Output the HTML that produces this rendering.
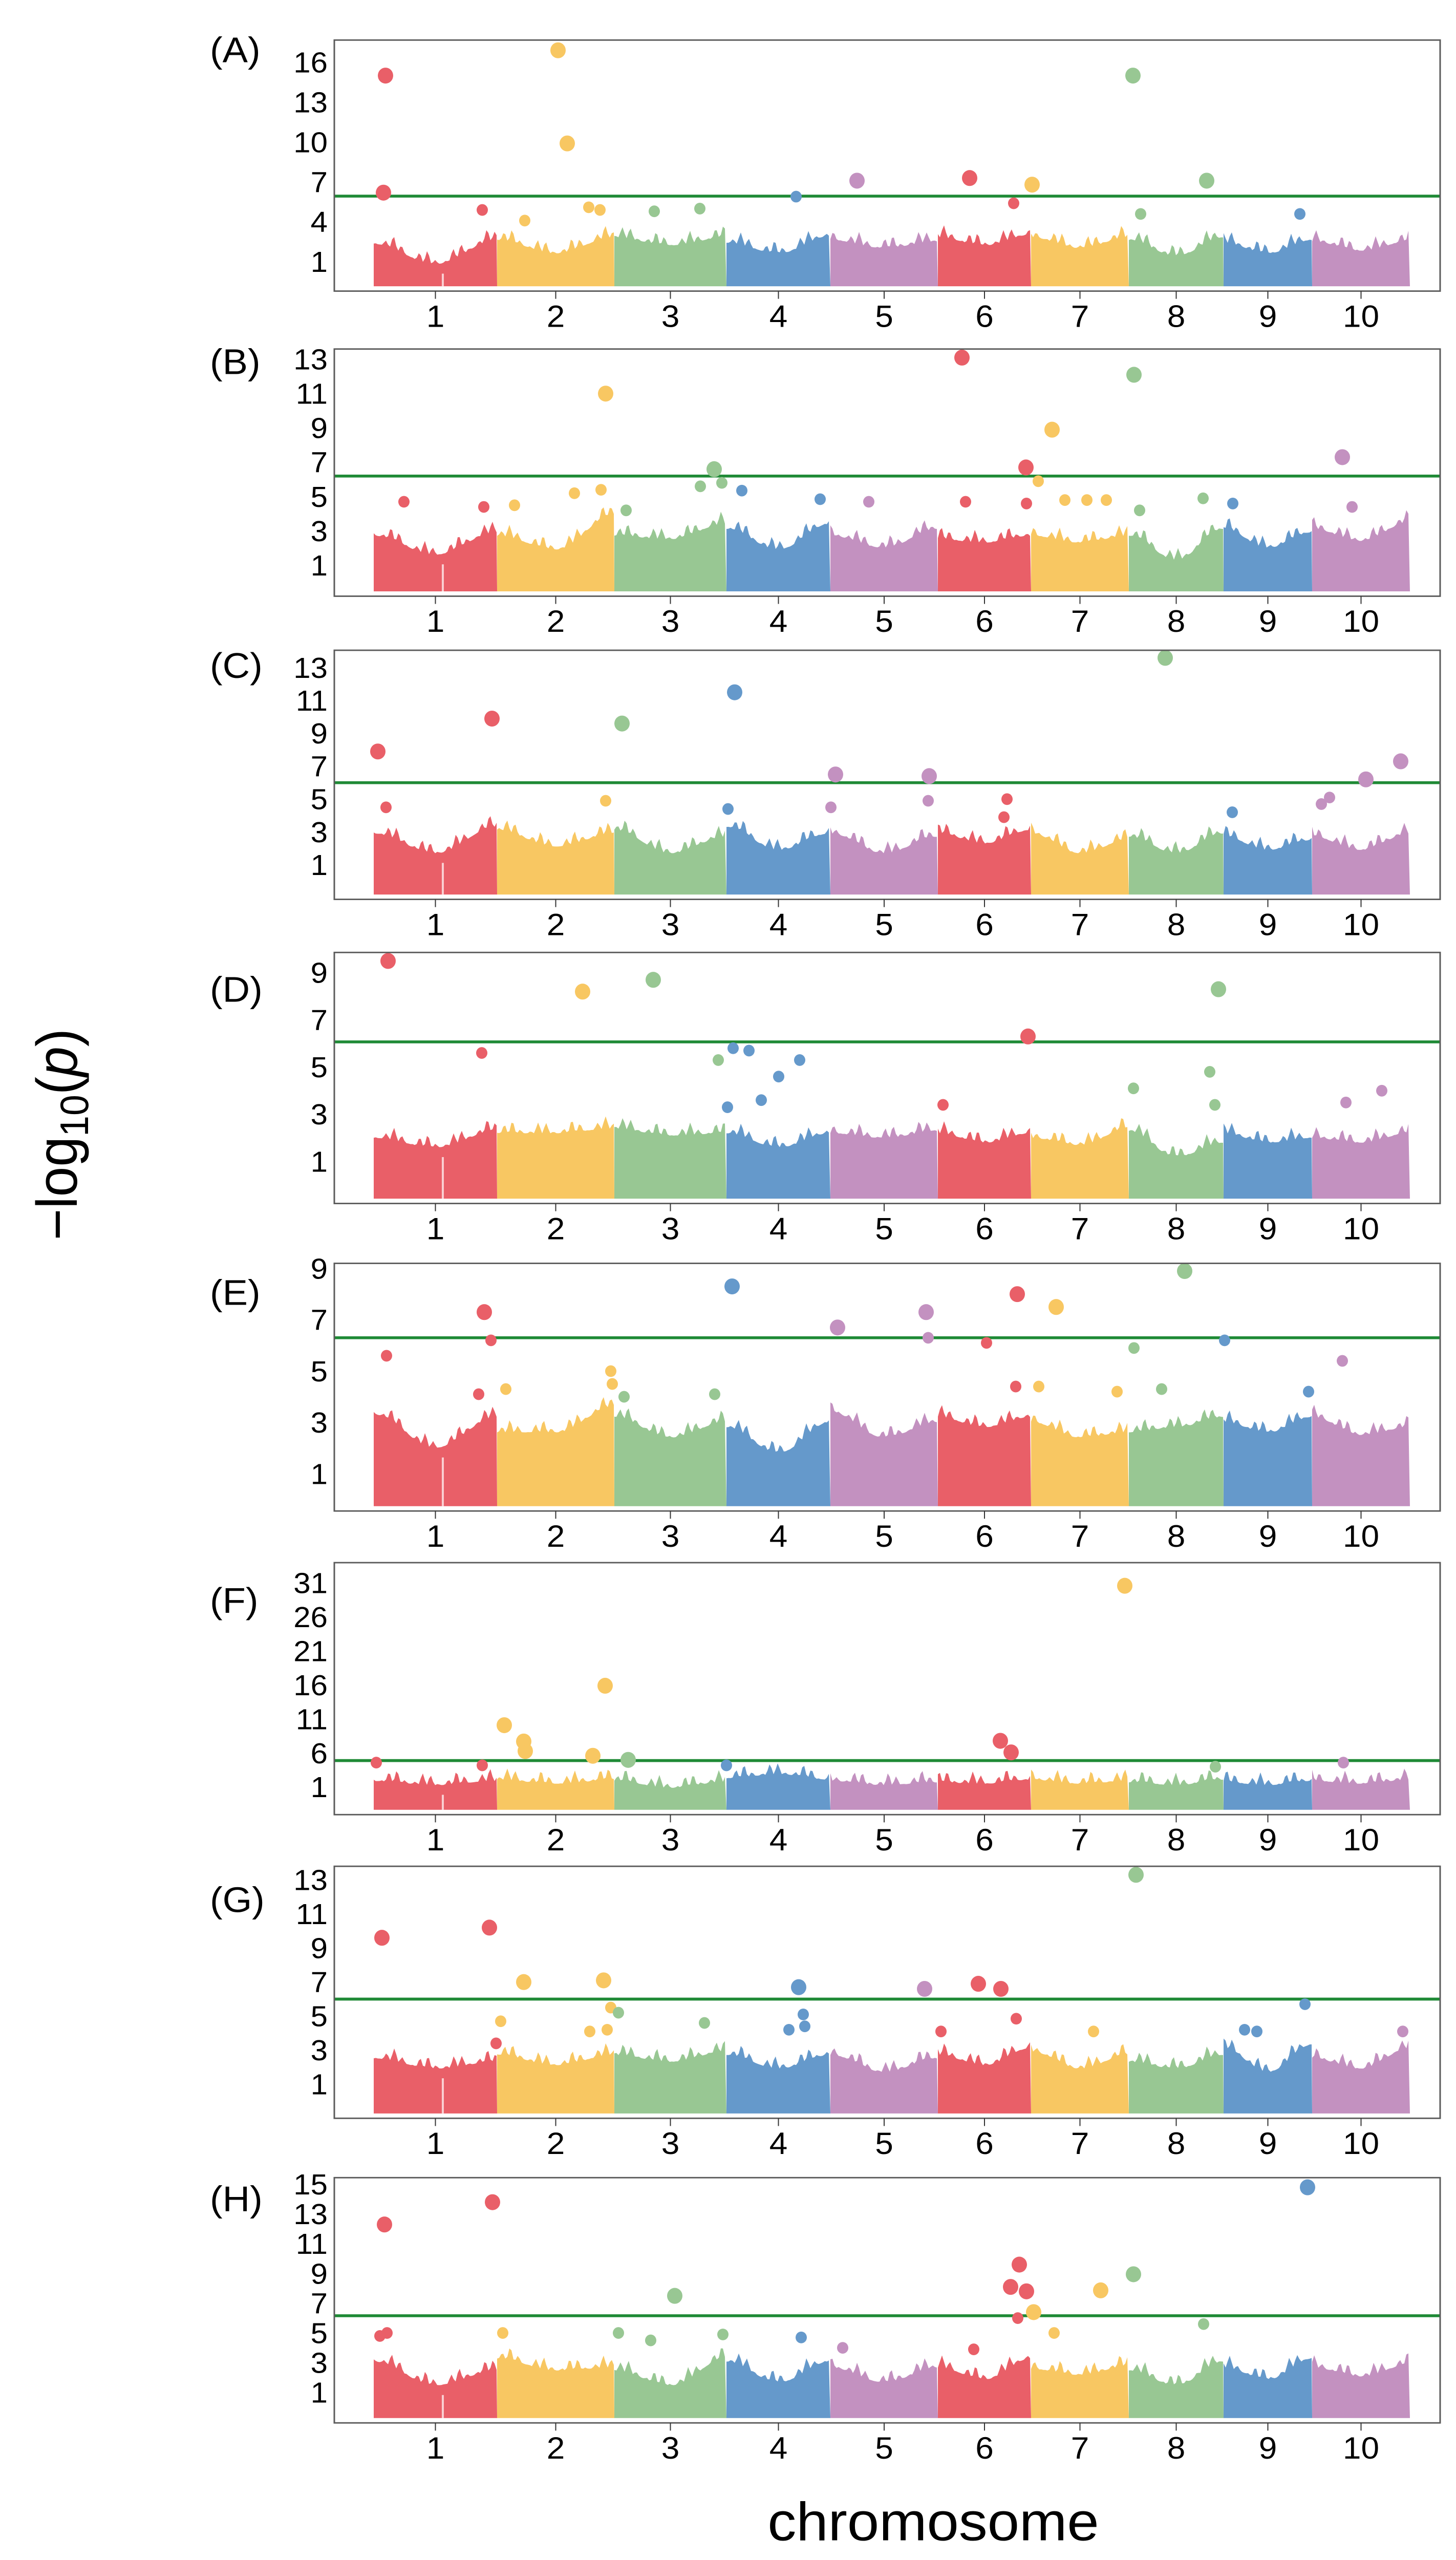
<!DOCTYPE html>
<html><head><meta charset="utf-8">
<style>
html,body{margin:0;padding:0;background:#fff;overflow:hidden;}
#fig{display:block;position:fixed;left:0;top:0;width:100vw;height:100vh;}
text{font-family:"Liberation Sans",Arial,sans-serif;fill:#000;}
</style></head>
<body>
<svg id="fig" xmlns="http://www.w3.org/2000/svg" viewBox="0 0 2844 5303" preserveAspectRatio="none">
  <rect x="0" y="0" width="2844" height="5303" fill="#fff"/>
  <text transform="translate(150,2350) rotate(-90)" text-anchor="middle" font-size="112">−log<tspan font-size="78" dy="22">10</tspan><tspan dy="-22">(</tspan><tspan font-style="italic">p</tspan>)</text>
  <text x="1823" y="5262" text-anchor="middle" font-size="112">chromosome</text>
  <g id="panels"></g>
</svg>
<script>
// ---- shared chromosome data ----
const chromosomes = ["1","2","3","4","5","6","7","8","9","10"];
const chrLengths = [241,229,219,203,210,182,191,185,173,191];
const chrColors = ["#e95f68","#f8c762","#98c793","#6599cb","#c391c0","#e95f68","#f8c762","#98c793","#6599cb","#c391c0"];

// ---- per panel layout config ----
const panelLetters = ["A","B","C","D","E","F","G","H"];
const panelTops = [83,723,1347,1973,2617,3237,3866,4511];
const panelBottoms = [603,1235,1863,2493,3130,3759,4388,5019];
const panelLabelY = [103,749,1378,2049,2677,3315,3935,4554];
const yMaxs = [17.67,13.6,14.06,9.86,9.2,34,13.8,15.45];
const yMins = [-1.2,-0.8,-1.1,-0.78,-0.45,-3.05,-1.0,-1.05];

// ---- y tick labels ----
const ticksA = [1,4,7,10,13,16];
const ticksB = [1,3,5,7,9,11,13];
const ticksC = [1,3,5,7,9,11,13];
const ticksD = [1,3,5,7,9];
const ticksE = [1,3,5,7,9];
const ticksF = [1,6,11,16,21,26,31];
const ticksG = [1,3,5,7,9,11,13];
const ticksH = [1,3,5,7,9,11,13,15];

// ---- significance thresholds ----
const thresholds = [5.94,6.2,6.0,6.07,6.3,4.9,6.0,6.16];

// ---- background envelope (left, middle, right) per chromosome ----
const envA = [[2.7,1.2,3.0],[3.0,2.0,3.2],[3.2,2.6,3.2],[2.8,2.0,3.3],[3.0,2.4,2.9],[3.2,2.6,3.4],[3.2,2.4,3.2],[3.0,1.8,3.2],[2.8,2.0,3.0],[2.9,2.2,2.9]];
const envB = [[3.0,1.9,3.2],[3.0,2.2,4.2],[3.0,2.8,3.7],[3.4,2.2,3.7],[3.0,2.3,3.4],[2.8,2.6,3.0],[3.0,2.6,3.0],[3.0,1.6,3.4],[3.4,2.3,3.2],[3.4,2.7,3.8]];
const envC = [[3.2,2.0,3.6],[3.4,2.4,3.2],[3.4,2.0,3.0],[3.6,2.2,3.2],[3.2,2.0,3.0],[3.2,2.6,3.4],[3.2,2.0,2.8],[3.0,2.0,3.2],[3.0,2.2,2.8],[3.0,2.2,3.2]];
const envD = [[2.2,1.8,2.5],[2.4,2.4,2.6],[2.6,2.3,2.4],[2.4,1.8,2.4],[2.4,2.2,2.5],[2.4,2.0,2.4],[2.2,1.9,2.6],[2.5,1.4,2.0],[2.4,2.0,2.2],[2.2,2.0,2.4]];
const envE = [[3.5,2.2,3.4],[2.8,2.8,3.8],[3.4,2.6,3.2],[3.0,2.0,3.2],[3.6,2.6,3.2],[3.4,3.0,3.4],[3.2,2.6,2.8],[2.8,3.0,3.4],[3.2,2.8,3.4],[3.4,2.7,3.0]];
const envF = [[2.6,2.0,2.6],[2.8,2.2,2.8],[2.6,1.6,2.5],[3.0,3.6,2.8],[2.6,2.0,2.4],[2.4,2.2,2.8],[2.8,2.2,2.6],[2.4,2.0,2.8],[2.4,2.0,2.6],[2.6,2.2,2.8]];
const envG = [[2.8,2.2,2.6],[3.0,2.4,3.0],[3.0,2.6,3.2],[3.0,2.2,3.0],[3.0,2.0,2.8],[3.0,2.4,3.4],[3.2,2.2,3.0],[2.6,2.2,3.0],[3.4,2.0,3.6],[2.8,2.2,3.4]];
const envH = [[3.4,1.8,2.8],[3.6,2.8,3.0],[2.8,1.8,3.6],[3.4,2.0,3.4],[3.0,2.0,3.0],[3.0,2.2,3.6],[2.9,2.5,3.1],[2.8,1.8,3.4],[3.0,2.2,3.6],[3.0,2.4,3.2]];

// ---- outlier SNPs: [chromosome, position, -log10 p] ----
const snpsA = [[1,23,15.0],[2,119,16.9],[8,8,15.0],[2,137,9.9],[1,19,6.2],[5,52,7.1],[6,62,7.3],[7,2,6.8],[8,152,7.1],[4,136,5.9],[6,148,5.4],[1,212,4.9],[2,179,5.1],[2,201,4.9],[3,167,5.0],[3,78,4.8],[8,23,4.6],[9,149,4.6],[2,54,4.1]];
const snpsB = [[6,47,13.1],[8,10,12.1],[2,212,11.0],[7,41,8.9],[10,59,7.3],[6,172,6.7],[3,195,6.6],[7,14,5.9],[3,210,5.8],[3,168,5.6],[4,30,5.35],[2,203,5.4],[2,151,5.2],[4,183,4.85],[1,59,4.7],[6,54,4.7],[6,173,4.6],[5,75,4.7],[8,145,4.9],[8,21,4.2],[9,18,4.6],[10,78,4.4],[7,66,4.8],[7,109,4.8],[7,147,4.8],[1,215,4.4],[2,34,4.5],[3,23,4.2]];
const snpsC = [[8,71,13.6],[4,16,11.5],[1,231,9.9],[3,15,9.6],[1,8,7.9],[10,173,7.3],[5,10,6.5],[5,193,6.4],[10,105,6.2],[10,34,5.1],[10,18,4.7],[6,135,5.0],[2,212,4.9],[5,191,4.9],[1,24,4.5],[4,3,4.4],[5,1,4.5],[9,17,4.2],[6,129,3.9]];
const snpsD = [[1,28,9.5],[3,76,8.7],[2,167,8.2],[8,175,8.3],[6,176,6.3],[1,211,5.6],[4,13,5.8],[4,44,5.7],[3,203,5.3],[4,143,5.3],[4,102,4.6],[8,158,4.8],[8,9,4.1],[10,136,4.0],[4,68,3.6],[6,10,3.4],[10,66,3.5],[8,168,3.4],[4,2,3.3]];
const snpsE = [[8,109,8.9],[4,11,8.3],[6,155,8.0],[7,49,7.5],[1,216,7.3],[5,187,7.3],[5,14,6.7],[5,191,6.3],[1,229,6.2],[9,2,6.2],[6,95,6.1],[8,10,5.9],[1,25,5.6],[10,59,5.4],[2,222,5.0],[2,225,4.5],[2,17,4.3],[6,152,4.4],[7,15,4.4],[8,64,4.3],[7,168,4.2],[9,166,4.2],[3,19,4.0],[1,205,4.1],[3,196,4.1]];
const snpsF = [[7,183,30.6],[2,211,15.9],[2,14,10.1],[2,52,7.7],[2,55,6.3],[2,187,5.6],[6,122,7.8],[6,143,6.1],[3,27,5.0],[1,5,4.6],[1,212,4.2],[4,0,4.2],[10,61,4.6],[8,169,4.0]];
const snpsG = [[8,14,13.3],[1,226,10.2],[1,16,9.6],[2,208,7.1],[2,52,7.0],[4,141,6.7],[6,79,6.9],[6,123,6.6],[5,184,6.6],[9,159,5.7],[2,222,5.5],[3,8,5.2],[4,150,5.1],[6,153,4.85],[2,7,4.7],[3,176,4.6],[4,153,4.4],[4,122,4.2],[6,6,4.1],[7,122,4.1],[2,215,4.2],[2,181,4.1],[9,41,4.2],[9,65,4.1],[10,177,4.1],[1,239,3.4]];
const snpsH = [[9,164,14.8],[1,232,13.8],[1,21,12.3],[6,159,9.6],[8,9,8.95],[6,142,8.1],[6,173,7.8],[7,136,7.87],[3,118,7.5],[7,5,6.4],[6,156,6.0],[8,146,5.6],[7,45,5.0],[1,26,5.0],[1,12,4.8],[2,11,5.0],[3,8,5.0],[3,71,4.5],[3,212,4.9],[4,146,4.7],[5,24,4.0],[6,70,3.9]];

const tickSets = [ticksA,ticksB,ticksC,ticksD,ticksE,ticksF,ticksG,ticksH];
const envSets = [envA,envB,envC,envD,envE,envF,envG,envH];
const snpSets = [snpsA,snpsB,snpsC,snpsD,snpsE,snpsF,snpsG,snpsH];

const NS = "http://www.w3.org/2000/svg";
const boxLeft = 653, boxRight = 2813;
const dataLeft = 730;
const totalLen = chrLengths.reduce((a,b)=>a+b,0);
const dataWidth = 2024;
const chrStarts = [];
{ let c = 0; chrLengths.forEach(l => { chrStarts.push(c); c += l; }); }
function xScale(chrIdx, pos){ return dataLeft + (chrStarts[chrIdx] + pos) / totalLen * dataWidth; }
function mk(tag, attrs, parent){ const e = document.createElementNS(NS, tag); for (const k in attrs) e.setAttribute(k, attrs[k]); parent.appendChild(e); return e; }

const root = document.getElementById("panels");
panelLetters.forEach((letter, p) => {
  const top = panelTops[p], bot = panelBottoms[p];
  const ymax = yMaxs[p], ymin = yMins[p];
  const yScale = v => bot - (v - ymin) / (ymax - ymin) * (bot - top);
  const g = mk("g", {}, root);
  
  

  const lab = mk("text", {x: 410, y: panelLabelY[p] + 26, "font-size": 74}, g);
  lab.textContent = "(" + letter + ")";
  
  

  // background mass per chromosome
  const baseY = bot - 10;
  const env = envSets[p];
  chrLengths.forEach((len, c) => {
    const x0 = xScale(c, 0), x1 = xScale(c, len), xm = (x0 + x1) / 2;
    const e = env[c];
    let d = "M" + x0.toFixed(1) + "," + baseY;
    for (let x = x0; x <= x1 + 0.1; x += 4) {
      let v;
      if (x < xm) { const t = (x - x0) / (xm - x0); const s = (1 - Math.cos(Math.PI * t)) / 2; v = e[0] + (e[1] - e[0]) * s; }
      else { const t = (x - xm) / (x1 - xm); const s = (1 - Math.cos(Math.PI * t)) / 2; v = e[1] + (e[2] - e[1]) * s; }
      const jag = 26 * Math.pow(Math.abs(Math.sin(x * 0.19 + p) * Math.sin(x * 0.051 + c)), 2);
      const y = Math.min(baseY - 4, yScale(v) - jag + 10);
      d += " L" + Math.min(x, x1).toFixed(1) + "," + y.toFixed(1);
    }
    d += " L" + x1.toFixed(1) + "," + baseY + " Z";
    const path = mk("path", {d: d, fill: chrColors[c]}, g);
    
    
  });
  // chr1 centromere notch
  const notchX = xScale(0, chrLengths[0] * 0.56);
  mk("rect", {x: notchX - 2, y: yScale(envSets[p][0][1]) + 30, width: 4, height: Math.max(0, baseY - yScale(envSets[p][0][1]) - 30), fill: "#fff", opacity: 0.7}, g);

  // threshold line
  const ty = yScale(thresholds[p]);
  const thr = mk("line", {x1: boxLeft, x2: boxRight, y1: ty, y2: ty, stroke: "#1f8a36", "stroke-width": 6}, g);
  
  

  // outlier points
  snpSets[p].forEach(s => {
    const c = s[0] - 1;
    const cx = xScale(c, s[1]);
    const cy = yScale(s[2]);
    const r = s[2] > thresholds[p] ? 15 : 11;
    const pt = mk("ellipse", {cx: cx.toFixed(1), cy: cy.toFixed(1), rx: r, ry: r * 1.1, fill: chrColors[c]}, g);
    
    
  });

  // frame
  const frame = mk("rect", {x: boxLeft, y: top, width: boxRight - boxLeft, height: bot - top, fill: "none", stroke: "#5a5a5a", "stroke-width": 3}, g);
  
  

  // y ticks
  tickSets[p].forEach(t => {
    const tl = mk("text", {x: 640, y: yScale(t) + 21, "text-anchor": "end", "font-size": 60}, g);
    tl.textContent = t;
    
    
  });

  // x ticks
  chromosomes.forEach((name, c) => {
    const cx = xScale(c, chrLengths[c] / 2);
    const tk = mk("line", {x1: cx, x2: cx, y1: bot, y2: bot + 16, stroke: "#333", "stroke-width": 2}, g);
    
    
    const tl = mk("text", {x: cx, y: bot + 74, "text-anchor": "middle", "font-size": 64}, g);
    tl.textContent = name;
    
    
  });
});
</script>
</body></html>
